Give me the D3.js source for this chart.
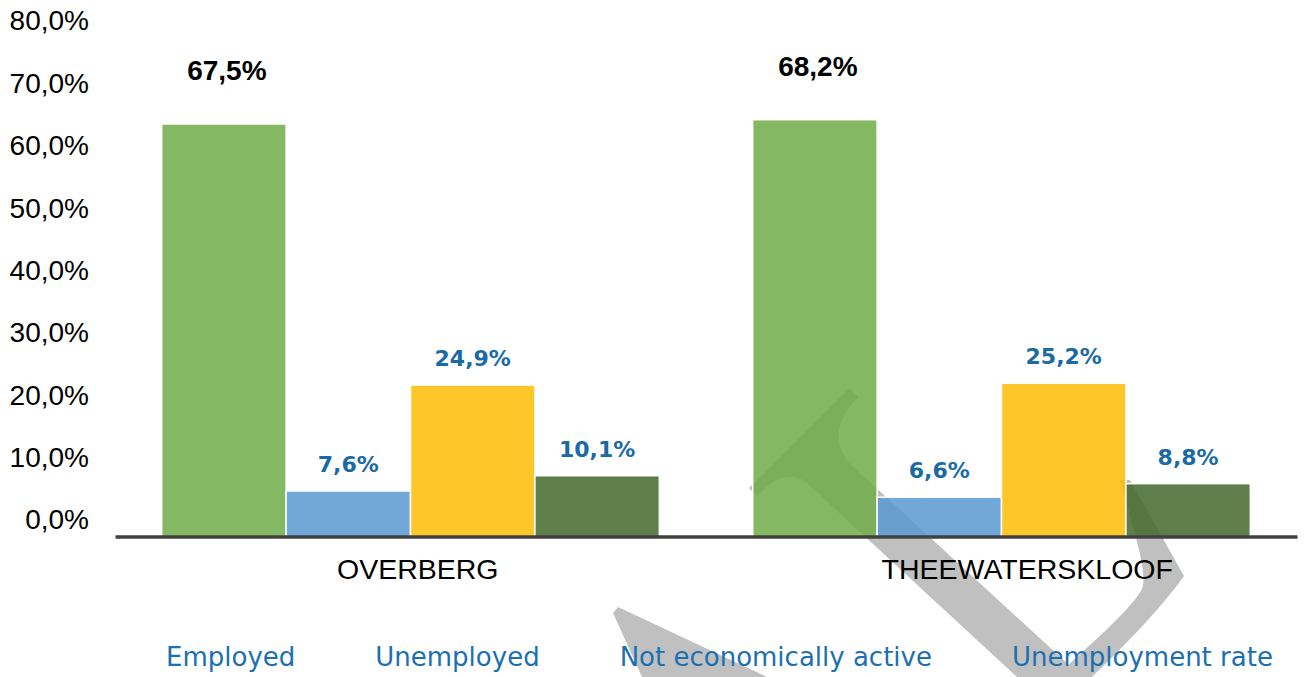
<!DOCTYPE html>
<html>
<head>
<meta charset="utf-8">
<script src="https://cdn.jsdelivr.net/npm/d3@7/dist/d3.min.js"></script>
<style>
  html, body { margin: 0; padding: 0; background: #ffffff; }
  svg { display: block; }
</style>
</head>
<body>
<svg id="chart" width="1305" height="677"></svg>
<script>
// Labour force status by municipality (share of working-age population)
const categories = ["OVERBERG", "THEEWATERSKLOOF"];
const seriesNames = ["Employed", "Unemployed", "Not economically active", "Unemployment rate"];
const employed = [67.5, 68.2];
const unemployed = [7.6, 6.6];
const notActive = [24.9, 25.2];
const unemploymentRate = [10.1, 8.8];
const yTicks = [0, 10, 20, 30, 40, 50, 60, 70, 80];

const seriesValues = [employed, unemployed, notActive, unemploymentRate];
const seriesColors = ["#6eab46", "#5999d1", "#ffbc03", "#43682a"];

const svg = d3.select("#chart");

const fmt = v => v.toFixed(1).replace(".", ",") + "%";

// Scales
const x0 = d3.scaleBand().domain(categories).range([115, 1297])
  .paddingInner(0.158).paddingOuter(0.079);
const x1 = d3.scaleBand().domain(seriesNames).range([0, x0.bandwidth()]);
const y = d3.scaleLinear().domain([0, 80]).range([537.6, 47.4]);
// tick labels sit on their own slightly wider spacing
const yTickScale = d3.scaleLinear().domain([0, 80]).range([520, 21]);
const xLabel = d3.scaleBand().domain(categories).range([113, 1332]);

// Decorative grey brush mark behind the chart
const deco = svg.append("g").attr("fill", "#c0c0c0");
deco.append("path").attr("d",
  "M849,388 L858,397 C840,417 830,436 848,462 L1082,677 L1017,677 L808,484 " +
  "C795,473 780,472 757,496 L749,488 Z");
deco.append("path").attr("d",
  "M1120,480 L1130,480 L1184,576 C1160,610 1118,652 1092,677 L1055,677 " +
  "C1090,645 1128,612 1141,591 C1148,578 1140,550 1120,480 Z");
deco.append("path").attr("d", "M613,613 L618,607 L767,677 L642,677 Z");

// Bars
const groups = svg.append("g").selectAll("g")
  .data(categories)
  .join("g")
  .attr("transform", d => `translate(${x0(d)},0)`);

groups.selectAll("rect")
  .data((c, ci) => seriesNames.map((s, si) => ({ s, si, v: seriesValues[si][ci] })))
  .join("rect")
  .attr("x", d => x1(d.s))
  .attr("width", x1.bandwidth())
  .attr("y", d => y(d.v))
  .attr("height", d => y(0) - y(d.v))
  .attr("fill", d => seriesColors[d.si])
  .attr("fill-opacity", 0.85)
  .attr("stroke", "#ffffff")
  .attr("stroke-width", 1.5);

// Value labels
groups.selectAll("text.value")
  .data((c, ci) => seriesNames.map((s, si) => ({ s, si, v: seriesValues[si][ci] })))
  .join("text")
  .attr("class", "value")
  .attr("x", d => x1(d.s) + x1.bandwidth() / 2 + (d.si === 0 ? 3 : 0))
  .attr("y", d => y(d.v) - (d.si === 0 ? 44 : 19))
  .attr("text-anchor", "middle")
  .attr("font-family", d => d.si === 0 ? "'Liberation Sans', Arial, sans-serif" : "'DejaVu Sans', sans-serif")
  .attr("font-size", d => d.si === 0 ? 28 : 22)
  .attr("font-weight", "bold")
  .attr("fill", d => d.si === 0 ? "#000000" : "#1a6aa6")
  .text(d => fmt(d.v));

// Category axis line
const xAxis = svg.append("g")
  .attr("transform", `translate(0,${536.5})`)
  .call(d3.axisBottom(x0).tickSize(0).tickSizeOuter(0).tickFormat(""));
xAxis.select(".domain").attr("stroke", "#404040").attr("stroke-width", 3.5);

// Category labels
const xLabels = svg.append("g")
  .attr("transform", `translate(0,${559})`)
  .call(d3.axisBottom(xLabel).tickSize(0).tickSizeOuter(0));
xLabels.select(".domain").remove();
xLabels.selectAll("text")
  .attr("font-family", "'Liberation Sans', Arial, sans-serif")
  .attr("font-size", 28.5)
  .attr("fill", "#000000")
  .attr("dy", "0.71em")
  .attr("y", 0);

// Value axis labels
const yAxis = svg.append("g")
  .attr("transform", "translate(89,0)")
  .call(d3.axisLeft(yTickScale).tickValues(yTicks).tickSize(0).tickPadding(0).tickFormat(fmt));
yAxis.select(".domain").remove();
yAxis.selectAll("text")
  .attr("font-family", "'Liberation Sans', Arial, sans-serif")
  .attr("font-size", 28)
  .attr("fill", "#000000");

// Legend (text entries laid out left to right)
const legend = svg.append("g").attr("transform", "translate(166,666)");
let lx = 0;
seriesNames.forEach(name => {
  const t = legend.append("text")
    .attr("x", lx)
    .attr("y", 0)
    .attr("font-family", "'DejaVu Sans', sans-serif")
    .attr("font-size", 26)
    .attr("fill", "#1c70b0")
    .text(name);
  lx += t.node().getComputedTextLength() + 80;
});
</script>
</body>
</html>
